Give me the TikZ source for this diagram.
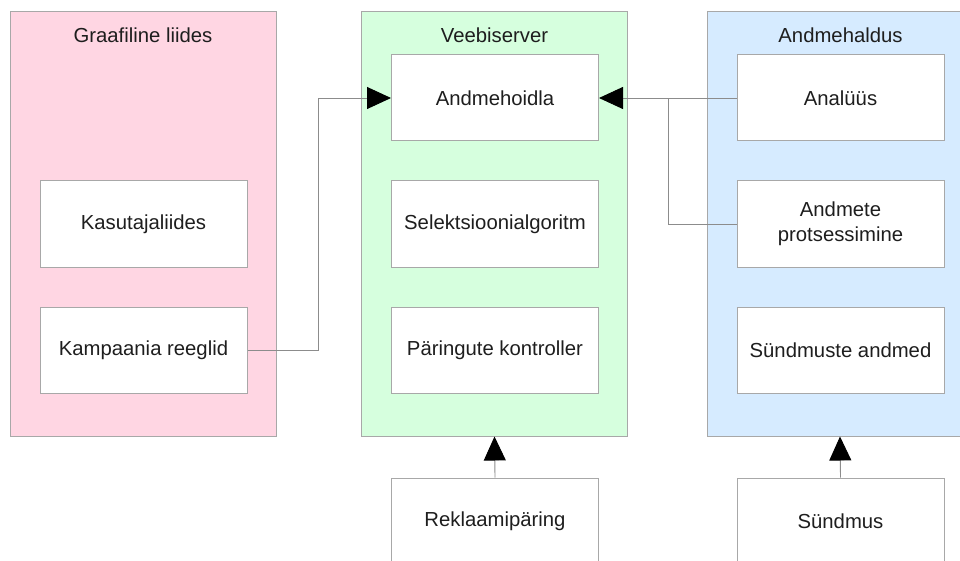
\documentclass[tikz,border=0pt]{standalone}
\usepackage{fontspec}
\setmainfont{Liberation Sans}
\usetikzlibrary{arrows.meta}
\definecolor{pinkf}{HTML}{FFD6E3}
\definecolor{greenf}{HTML}{D6FFDE}
\definecolor{bluef}{HTML}{D6EBFF}
\definecolor{edgec}{HTML}{A8A8A8}
\definecolor{linec}{HTML}{8C8C8C}
\definecolor{txt}{HTML}{1E1E1E}
\tikzset{
  container/.style={draw=edgec, line width=1pt, minimum width=266pt, minimum height=424pt, inner sep=0pt},
  inbox/.style={draw=edgec, fill=white, line width=1pt, minimum width=207pt, minimum height=86pt, inner sep=0pt, align=center, text=txt, font=\fontsize{20.3}{25}\selectfont},
  title/.style={text=txt, font=\fontsize{20.3}{25}\selectfont, inner sep=0pt},
  conn/.style={draw=linec, line width=0.9pt},
  tipa/.style={-{Triangle[length=24pt,width=22pt,color=black]}}
}
\begin{document}
\begin{tikzpicture}[x=1pt,y=-1pt]
\useasboundingbox (0,0) rectangle (960,561);
\clip (0,0) rectangle (960,561);
% containers
\node[container, fill=pinkf] (gl) at (143,224) {};
\node[container, fill=greenf] (vs) at (494.5,224) {};
\node[container, fill=bluef] (ah) at (840,224) {};
\node[title] (glt) at (143,35) {Graafiline liides};
\node[title] (vst) at (494.5,35) {Veebiserver};
\node[title] (aht) at (840.5,35) {Andmehaldus};
% inner boxes
\node[inbox] (kas) at (143.5,224) {Kasutajaliides};
\node[inbox] (kamp) at (143.5,350) {Kampaania reeglid};
\node[inbox] (hoid) at (495,98) {Andmehoidla};
\node[inbox] (sel) at (495,224) {Selektsioonialgoritm};
\node[inbox] (par) at (495,350.5) {Päringute kontroller};
\node[inbox] (anal) at (840.5,98) {Analüüs};
\node[inbox] (prot) at (840.5,224) {Andmete\\protsessimine};
\node[inbox] (sdm) at (840.5,350.5) {Sündmuste andmed};
\node[inbox] (rekl) at (495,521) {Reklaamipäring};
\node[inbox] (sund) at (840.5,521) {Sündmus};
% connectors
\coordinate (j) at (668,98);
\draw[conn, tipa] (kamp.east) -- ++(71,0) |- (hoid.west);
\draw[conn, tipa] (anal.west) -- (hoid.east);
\draw[conn] (prot.west) -| (j);
\draw[conn, tipa] (rekl.north) -- (vs.south);
\draw[conn, tipa] (sund.north) -- (ah.south);
\end{tikzpicture}
\end{document}
